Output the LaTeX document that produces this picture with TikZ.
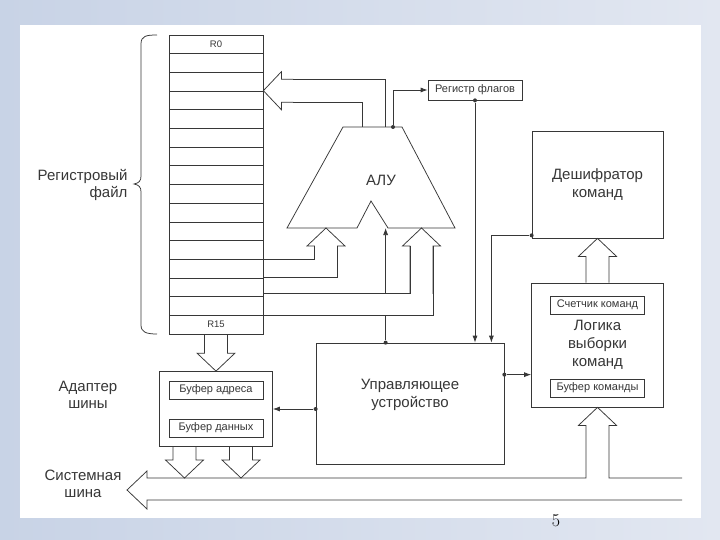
\documentclass[tikz,border=0pt]{standalone}
\usepackage{fontspec}
\setsansfont{Liberation Sans}
\usetikzlibrary{positioning,calc,arrows.meta}

\definecolor{bgleft}{RGB}{200,211,230}
\definecolor{bgright}{RGB}{226,231,241}
\definecolor{ink}{RGB}{55,55,55}

\tikzset{
  wire/.style={draw=ink, line width=0.75pt},
  box/.style={draw=ink, line width=0.75pt, fill=white, inner sep=0pt, text=ink,
    align=center, font=\sffamily\fontsize{15}{18}\selectfont},
  smallbox/.style={box, minimum width=94pt, minimum height=18pt,
    font=\sffamily\fontsize{11}{12}\selectfont},
  regrow/.style={box, minimum width=94pt, minimum height=18.69pt},
  regtext/.style={text=ink, font=\sffamily\fontsize{9.5}{11}\selectfont},
  lbl/.style={text=ink, align=center, font=\sffamily\fontsize{15}{17.5}\selectfont},
  dot/.style={circle, fill=ink, inner sep=0pt, minimum size=4pt},
  >={Latex[length=7pt,width=5pt]}
}

\newcommand\fatarrow[2]{%
  \coordinate (fa-base) at ($#2!18pt!#1$);
  \draw[wire] ($#1!11.5pt!90:#2$) -- ($(fa-base)!11.5pt!90:#2$)
    -- ($(fa-base)!19pt!90:#2$) -- #2 -- ($(fa-base)!19pt!-90:#2$)
    -- ($(fa-base)!11.5pt!-90:#2$) -- ($#1!11.5pt!-90:#2$);%
}

\begin{document}
\begin{tikzpicture}[x=1pt, y=-1pt]
\useasboundingbox (0,0) rectangle (720,540);
\shade[left color=bgleft, right color=bgright] (0,0) rectangle (720,540);
\fill[white] (20,25) rectangle (701,518);

\foreach \i in {0,...,15}
  \node[regrow] (r\i) at (216,{44.345+18.69*\i}) {};
\node[regtext] (r0-name) at (r0) {R0};
\node[regtext] (r15-name) at (r15) {R15};
\draw[wire] (157,35) .. controls (146,35) and (141,36) .. (141,44)
  -- (141,176) .. controls (141,181) and (139,183) .. (134,184)
  .. controls (139,185) and (141,187) .. (141,192)
  -- (141,325) .. controls (141,332) and (146,334) .. (157,334);
\node[lbl, anchor=east, align=right] (rf-name) at (131,185) {Регистровый\\файл};

\coordinate (alu-tl) at (343,127);
\coordinate (alu-tr) at (402,127);
\coordinate (alu-br) at (455,228);
\coordinate (alu-nr) at (388,228);
\coordinate (alu-np) at (371,201);
\coordinate (alu-nl) at (357,228);
\coordinate (alu-bl) at (287,228);
\draw[wire] (alu-tl) -- (alu-tr) -- (alu-br) -- (alu-nr) -- (alu-np) -- (alu-nl) -- (alu-bl) -- cycle;
\node[lbl] (alu) at (381,180) {АЛУ};

\node[smallbox, minimum height=20pt] (flags) at (475,90) {Регистр флагов};
\node[box, minimum width=131pt, minimum height=107pt] (dec) at (597.5,184.5) {Дешифратор\\команд};
\node[box, minimum width=132pt, minimum height=124pt] (logic) at (597.5,345) {Логика\\выборки\\команд};
\node[smallbox] (pc) at (597.5,305) {Счетчик команд};
\node[smallbox] (ir) at (597.5,388) {Буфер команды};
\node[box, minimum width=188pt, minimum height=121pt] (cu) at (410,403.5) {};
\node[lbl] (cu-name) at (410,395) {Управляющее\\устройство};
\node[box, minimum width=113pt, minimum height=75pt] (adapter) at (216,409) {};
\node[smallbox] (abuf) at (216,390) {Буфер адреса};
\node[smallbox] (dbuf) at (216,428) {Буфер данных};
\node[lbl] (ad-name) at (88,395) {Адаптер\\шины};
\node[lbl] (bus-name) at (83,484) {Системная\\шина};

\coordinate (alu-out) at ($(r3.north east)+(30,0)$);
\fatarrow{(alu-out)}{(r3.north east)}
\coordinate (alu-o1) at (385,127);
\coordinate (alu-o2) at (362,127);
\draw[wire] (alu-o1) |- ($(alu-out)+(0,-11.5)$);
\draw[wire] (alu-o2) |- ($(alu-out)+(0,11.5)$);

\node[dot] (d-alu) at (393,127) {};
\draw[wire, ->] (d-alu) |- (flags.west);
\node[dot] (d-flags) at (flags.south) {};
\draw[wire, ->] (d-flags) -- (d-flags |- cu.north);

\node[dot] (d-dec) at ($(dec.south west)+(0,-3)$) {};
\draw[wire, ->] (d-dec) -| ($(cu.north east)+(-13,0)$);

\node[dot] (d-cu-r) at ($(cu.north east)+(0,32)$) {};
\draw[wire, ->] (d-cu-r) -- (d-cu-r -| logic.west);
\node[dot] (d-cu-l) at (cu.west |- adapter.east) {};
\draw[wire, ->] (d-cu-l) -- (adapter.east);
\node[dot] (d-cu-t) at ($(cu.north west)+(70,0)$) {};

\coordinate (la) at (r12.north east);
\coordinate (lb) at (r13.north east);
\coordinate (lc) at ($(r14.north east)+(0,-2.5)$);
\coordinate (ld) at (r15.north east);
\coordinate (in1) at (326,228);
\coordinate (in2) at (421.5,228);
\fatarrow{(in1 |- la)}{(in1)}
\fatarrow{(in2 |- lc)}{(in2)}
\draw[wire] (la) -| ($(in1)+(-11.5,18)$);
\draw[wire] (lb) -| ($(in1)+(11.5,18)$);
\draw[wire] (lc) -| ($(in2)+(-11.5,18)$);
\draw[wire] (ld) -| ($(in2)+(11.5,18)$);
\draw[wire, ->] (d-cu-t |- lc) -- (d-cu-t |- alu-nr);
\draw[wire] (d-cu-t) -- (d-cu-t |- ld);

\fatarrow{(r15.south)}{(adapter.north)}
\coordinate (bustop) at (0,478);
\coordinate (ab1) at ($(adapter.south)+(-31.5,0)$);
\coordinate (ab2) at ($(adapter.south)+(25,0)$);
\fatarrow{(ab1)}{(ab1 |- bustop)}
\fatarrow{(ab2)}{(ab2 |- bustop)}
\fatarrow{(logic.north)}{(dec.south)}

\coordinate (bus-tip) at (127,490);
\draw[wire] (682,478) -| ($(logic.south)+(11.5,18)$) -- ++(7.5,0) -- (logic.south)
  -- ($(logic.south)+(-19,18)$) -- ++(7.5,0) |- (147,478) -- (147,471)
  -- (bus-tip) -- (147,509) -- (147,500) -- (682,500);

\node[font=\fontsize{18}{18}\selectfont] (page-no) at (556,521) {5};
\end{tikzpicture}
\end{document}
